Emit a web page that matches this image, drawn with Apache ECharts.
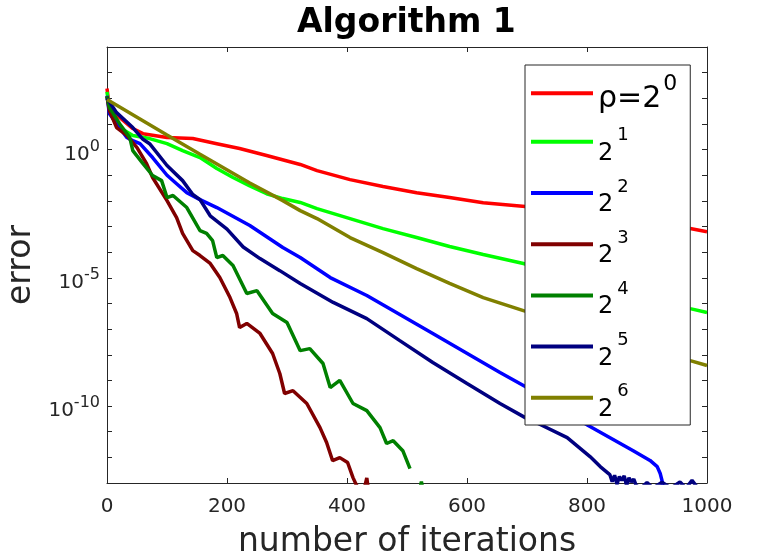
<!DOCTYPE html>
<html><head><meta charset="utf-8">
<script src="https://cdn.jsdelivr.net/npm/echarts@6/dist/echarts.min.js"></script>
<style>html,body{margin:0;padding:0;background:#fff}#c{width:781px;height:559px}</style>
</head><body><div id="c"></div>
<script>
// ---- data (error values stored as log10 exponents) ----
const xTicks = [0, 200, 400, 600, 800, 1000];
const yLabelExps = [0, -5, -10];
const legendBase = ['ρ=2', '2', '2', '2', '2', '2', '2'];
const legendExp = ['0', '1', '2', '3', '4', '5', '6'];
const colors = ['#ff0000', '#00ff00', '#0000ff', '#800000', '#008000', '#000080', '#808000'];

const rho0It  = [0, 2, 4, 21, 43, 60, 100, 143, 183, 221, 266, 322, 350, 405, 460, 516, 571, 627, 697, 972, 1000];
const rho0Exp = [2.38, 2.0, 1.64, 1.25, 0.82, 0.62, 0.47, 0.43, 0.23, 0.04, -0.23, -0.58, -0.82, -1.17, -1.44, -1.68, -1.87, -2.07, -2.22, -3.08, -3.20];

const rho1It  = [0, 2, 10, 21, 43, 71, 100, 126, 155, 183, 210, 238, 266, 293, 322, 350, 405, 460, 516, 571, 627, 694, 972, 1000];
const rho1Exp = [2.25, 1.9, 1.2, 0.86, 0.55, 0.43, 0.23, -0.04, -0.31, -0.74, -1.09, -1.42, -1.72, -1.91, -2.06, -2.30, -2.69, -3.08, -3.43, -3.78, -4.09, -4.44, -6.20, -6.35];

const rho2It  = [0, 4, 33, 43, 55, 76, 100, 116, 133, 155, 183, 238, 293, 322, 372, 433, 543, 655, 697, 802, 877, 905, 917, 922, 925, 927];
const rho2Exp = [2.1, 1.4, 0.47, 0.35, 0.23, -0.31, -1.0, -1.33, -1.68, -1.95, -2.26, -2.96, -3.82, -4.21, -4.99, -5.69, -7.17, -8.69, -9.24, -10.76, -11.74, -12.12, -12.36, -12.63, -12.9, -13.2];

const rho3It  = [0, 4, 16, 33, 50, 66, 76, 100, 116, 126, 143, 155, 172, 188, 205, 216, 221, 233, 255, 276, 288, 296, 310, 333, 355, 366, 376, 388, 401, 410, 416, 428, 433, 436];
const rho3Exp = [2.07, 1.52, 0.86, 0.55, 0.08, -0.55, -1.09, -1.99, -2.65, -3.27, -3.94, -4.13, -4.44, -4.99, -5.77, -6.39, -6.94, -6.78, -7.17, -7.95, -8.73, -9.51, -9.40, -9.90, -10.84, -11.42, -12.13, -12.01, -12.2, -12.79, -13.1, -13.3, -12.8, -13.3];

const rho4It  = [0, 4, 21, 38, 43, 60, 76, 91, 100, 110, 133, 155, 166, 176, 183, 193, 210, 233, 250, 276, 300, 322, 338, 360, 372, 388, 410, 433, 455, 466, 477, 493, 505, 512, 521, 524, 527];
const rho4Exp = [2.07, 1.64, 1.01, 0.47, -0.04, -0.55, -1.01, -1.21, -1.87, -1.79, -2.26, -3.16, -3.27, -3.55, -4.21, -4.13, -4.52, -5.61, -5.50, -6.39, -6.74, -7.84, -7.76, -8.34, -9.28, -9.0, -9.9, -10.18, -10.84, -11.46, -11.35, -11.74, -12.44, null, -13.3, -12.95, -13.3];

const rho5It  = [0, 16, 43, 60, 71, 100, 126, 143, 155, 172, 200, 227, 255, 288, 322, 377, 433, 488, 543, 600, 655, 697, 722, 767, 805, 822, 838, 842, 846, 850, 854, 858, 862, 866, 870, 874, 878, 882, 890, 900, 910, 925, 940, 955, 965, 975, 985];
const rho5Exp = [2.0, 1.44, 0.86, 0.4, 0.23, -0.62, -1.21, -1.75, -1.95, -2.58, -3.1, -3.8, -4.25, -4.72, -5.22, -5.96, -6.59, -7.45, -8.30, -9.12, -9.90, -10.45, -10.72, -11.23, -11.97, -12.36, -12.67, -12.95, -12.7, -13.05, -12.75, -12.9, -12.72, -13.1, -12.8, -12.95, -12.85, -13.1, -13.2, -12.98, -13.2, -12.97, -13.2, -12.96, -13.2, -12.9, -13.2];

const rho6It  = [0, 100, 155, 238, 293, 322, 350, 405, 460, 516, 571, 627, 694, 972, 1000];
const rho6Exp = [1.95, 0.57, -0.18, -1.3, -1.99, -2.38, -2.69, -3.43, -4.02, -4.64, -5.22, -5.77, -6.28, -8.23, -8.42];

const allIt = [rho0It, rho1It, rho2It, rho3It, rho4It, rho5It, rho6It];
const allExp = [rho0Exp, rho1Exp, rho2Exp, rho3Exp, rho4Exp, rho5Exp, rho6Exp];

// ---- chart ----
const FONT = 'DejaVu Sans';
const AX = '#262626';
const chart = echarts.init(document.getElementById('c'), null, {renderer: 'canvas'});
const names = legendBase.map((b, i) => b + '^' + legendExp[i]);

const series = names.map((n, i) => ({
  name: n, type: 'line', xAxisIndex: 0, yAxisIndex: 0,
  showSymbol: false, symbol: 'none', clip: true,
  lineStyle: {width: 3.5, color: colors[i]}, itemStyle: {color: colors[i]},
  data: allIt[i].map((x, k) => [x, allExp[i][k] === null ? null : Math.pow(10, allExp[i][k])])
}));

const yMin = 1e-13, yMax = 1e4;

const legendRich = {
  sp: {fontSize: 10, lineHeight: 38.7, fontFamily: FONT},
  SP: {fontSize: 10, lineHeight: 41.3, fontFamily: FONT},
  B: {fontSize: 30, lineHeight: 10, verticalAlign: 'bottom', color: '#000', fontFamily: FONT},
  BS: {fontSize: 22, lineHeight: 10, verticalAlign: 'top', padding: [0, 0, 0, 2], color: '#000', fontFamily: FONT},
  b: {fontSize: 24, lineHeight: 10, verticalAlign: 'bottom', color: '#000', fontFamily: FONT},
  s: {fontSize: 18, lineHeight: 10, verticalAlign: 'top', padding: [0, 0, 0, 4], color: '#000', fontFamily: FONT}
};

chart.setOption({
  animation: false,
  backgroundColor: '#fff',
  title: {
    text: 'Algorithm 1', left: 297, top: 7, padding: 0,
    textStyle: {fontFamily: FONT, fontSize: 33, fontWeight: 'bold', color: '#000'}
  },
  grid: {left: 107, top: 47, right: 74, bottom: 76, containLabel: false, outerBoundsMode: 'none'},
  legend: {
    orient: 'vertical', left: 525, top: 65, padding: [8, 13, 3.5, 6],
    itemGap: 12.5, itemWidth: 62, itemHeight: 4, icon: 'rect',
    borderColor: AX, borderWidth: 1, borderRadius: 0, backgroundColor: '#fff',
    selectedMode: false,
    data: names.map((n, i) => ({
      name: n,
      textStyle: {padding: i === 0 ? [0.7, 0, 0, 0] : [8.7, 0, 0, 0], rich: legendRich, color: '#000', fontFamily: FONT}
    })),
    formatter: function (n) {
      const p = n.split('^');
      if (p[0] === 'ρ=2') return '{SP|\u200b}{B|' + p[0] + '}{BS|' + p[1] + '}';
      return '{sp|\u200b}{b|' + p[0] + '}{s|' + p[1] + '}';
    },
    textStyle: {fontFamily: FONT, color: '#000', rich: legendRich}
  },
  xAxis: [{
    type: 'value', min: xTicks[0], max: xTicks[xTicks.length - 1], interval: 200, position: 'bottom',
    name: 'number of iterations', nameLocation: 'middle', nameGap: 43,
    nameTextStyle: {fontFamily: FONT, fontSize: 33, color: AX},
    axisLine: {show: true, lineStyle: {color: AX, width: 1}},
    axisTick: {show: true, inside: true, length: 5, lineStyle: {color: AX}},
    axisLabel: {show: true, margin: 14, fontFamily: FONT, fontSize: 20, color: AX,
      formatter: function (v) { return String(v); }},
    splitLine: {show: false}
  }, {
    type: 'value', min: xTicks[0], max: xTicks[xTicks.length - 1], interval: 200, position: 'top',
    axisLine: {show: true, onZero: false, lineStyle: {color: AX, width: 1}},
    axisTick: {show: true, inside: true, length: 5, lineStyle: {color: AX}},
    axisLabel: {show: false}, splitLine: {show: false}
  }],
  yAxis: [{
    type: 'log', logBase: 10, min: yMin, max: yMax, interval: 1, position: 'left',
    name: 'error', nameLocation: 'middle', nameGap: 61,
    nameTextStyle: {fontFamily: FONT, fontSize: 33, color: AX},
    axisLine: {show: true, lineStyle: {color: AX, width: 1}},
    axisTick: {show: true, inside: true, length: 5, lineStyle: {color: AX}},
    axisLabel: {
      show: true, margin: 7, color: AX, fontFamily: FONT,
      formatter: function (v) {
        const e = Math.round(Math.log10(v));
        if (yLabelExps.indexOf(e) < 0) return '';
        return '{sp|\u200b}{b|10}{s|' + e + '}';
      },
      rich: {
        sp: {fontSize: 10, lineHeight: 24, fontFamily: FONT},
        b: {fontSize: 20, height: 14.4, verticalAlign: 'bottom', color: AX, fontFamily: FONT},
        s: {fontSize: 16, height: 18, verticalAlign: 'top', color: AX, fontFamily: FONT}
      }
    },
    splitLine: {show: false}
  }, {
    type: 'log', logBase: 10, min: yMin, max: yMax, interval: 1, position: 'right',
    axisLine: {show: true, onZero: false, lineStyle: {color: AX, width: 1}},
    axisTick: {show: true, inside: true, length: 5, lineStyle: {color: AX}},
    axisLabel: {show: false}, splitLine: {show: false}
  }],
  series: series
});
</script>
</body></html>
